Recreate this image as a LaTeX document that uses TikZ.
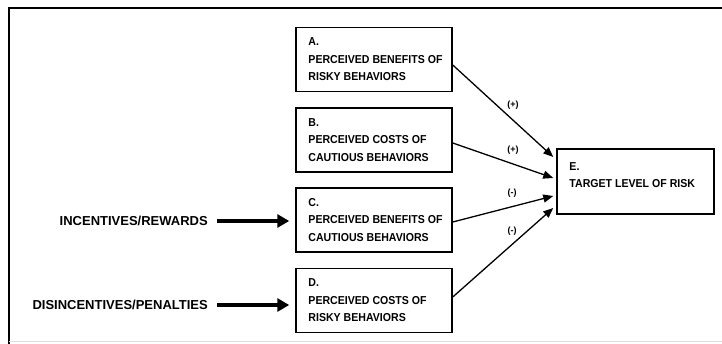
\documentclass[tikz,border=0pt]{standalone}
\usepackage{fontspec}
\setmainfont{Liberation Sans}
\newfontfamily\narrowsans[FakeStretch=0.92]{Liberation Sans}
\usetikzlibrary{arrows.meta,calc}
\begin{document}
\begin{tikzpicture}[x=1pt,y=-1pt,
  boxtext/.style={font=\narrowsans\bfseries\fontsize{11.5}{17.5}\selectfont, align=left,
    anchor=west, inner xsep=0pt},
  factor/.style={draw, line width=1.5pt, minimum width=156pt, minimum height=64pt},
  target/.style={draw, line width=1.5pt, minimum width=157pt, minimum height=65pt},
  source/.style={inner xsep=0pt, font=\bfseries\fontsize{13}{15}\selectfont},
  sign/.style={font=\bfseries\fontsize{9}{10}\selectfont, inner sep=1pt},
  link/.style={line width=1.3pt, -{Triangle[length=10pt,width=8pt]}},
  push/.style={line width=3.6pt, -{Triangle[length=12pt,width=13pt]}, shorten <=9pt, shorten >=6pt}
]
\useasboundingbox (0,0) rectangle (722,344);
% outer frame (top and left edges)
\draw[line width=2pt] (722,8) -- (9,8) -- (9,344);
\draw[line width=0.8pt, black!12] (9,341) -- (722,341);

% factor boxes and their texts
\node[factor] (A) at (374,59.5) {};
\node[factor] (B) at (374,140) {};
\node[factor] (C) at (374,220) {};
\node[factor] (D) at (374,300.5) {};
\node[target] (E) at (635.5,181.5) {};
\node[boxtext] (At) at ($(A.west)+(13,0)$) {A.\\PERCEIVED BENEFITS OF\\RISKY BEHAVIORS};
\node[boxtext] (Bt) at ($(B.west)+(13,0)$) {B.\\PERCEIVED COSTS OF\\CAUTIOUS BEHAVIORS};
\node[boxtext] (Ct) at ($(C.west)+(13,0)$) {C.\\PERCEIVED BENEFITS OF\\CAUTIOUS BEHAVIORS};
\node[boxtext] (Dt) at ($(D.west)+(13,0)$) {D.\\PERCEIVED COSTS OF\\RISKY BEHAVIORS};
\node[boxtext] (Et) at ($(E.west)+(13,-6.5)$) {E.\\TARGET LEVEL OF RISK};

% influences on the target level
\draw[link] ($(A.east)+(0,5.5)$) -- ($(E.west)+(-3,-24.5)$);
\draw[link] ($(B.east)+(0,3)$) -- ($(E.west)+(-3,-3.5)$);
\draw[link] ($(C.east)+(0,2)$) -- ($(E.west)+(-3,14.5)$);
\draw[link] ($(D.east)+(0,-3.5)$) -- ($(E.west)+(-3,26.5)$);
\node[sign] (sA) at (513,105) {(+)};
\node[sign] (sB) at (513,150) {(+)};
\node[sign] (sC) at (512,193) {(-)};
\node[sign] (sD) at (512,231) {(-)};

% external drivers
\node[source, anchor=east] (IR) at (208,221) {INCENTIVES/REWARDS};
\node[source, anchor=east] (DP) at (208,305) {DISINCENTIVES/PENALTIES};
\draw[push] (IR.east) -- (IR.east -| C.west);
\draw[push] (DP.east) -- (DP.east -| D.west);
\end{tikzpicture}
\end{document}
